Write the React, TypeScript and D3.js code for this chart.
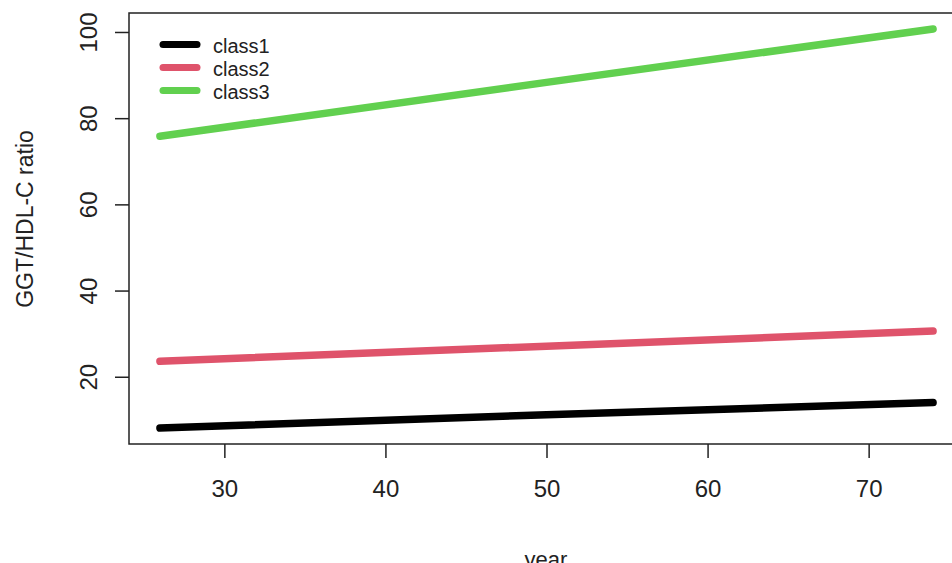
import React, { useEffect, useRef } from 'react';
import * as d3 from 'd3';

// Values
const years = [26, 50, 74];
const class1 = [8.1, 11.2, 14.0];
const class2 = [23.6, 27.1, 30.6];
const class3 = [75.8, 88.3, 100.7];
const seriesNames = ['class1', 'class2', 'class3'];
const seriesColors = ['#000000', '#DF536B', '#61D04F'];
const xTicks = [30, 40, 50, 60, 70];
const yTicks = [20, 40, 60, 80, 100];

const App: React.FC = () => {
  const svgRef = useRef<SVGSVGElement | null>(null);

  useEffect(() => {
    const svg = d3.select(svgRef.current);
    svg.selectAll('*').remove();
    const width = 952;
    const height = 563;
    const plot = { left: 129, right: 964, top: 13, bottom: 444 };
    const font = 'Liberation Sans, Arial, sans-serif';

    svg.attr('width', width).attr('height', height);

    const series = [class1, class2, class3];

    // R style axis extension of 4%
    const xExt = d3.extent(years) as [number, number];
    const xPad = (xExt[1] - xExt[0]) * 0.04;
    const allY = series.flat();
    const yExt = d3.extent(allY) as [number, number];
    const yPad = (yExt[1] - yExt[0]) * 0.04;

    const x = d3.scaleLinear()
      .domain([xExt[0] - xPad, xExt[1] + xPad])
      .range([plot.left, plot.right]);

    const y = d3.scaleLinear()
      .domain([yExt[0] - yPad, yExt[1] + yPad])
      .range([plot.bottom, plot.top]);

    svg.append('rect')
      .attr('width', width)
      .attr('height', height)
      .attr('fill', '#ffffff');

    // Lines.
    const line = d3.line<number>()
      .x((d, i) => x(years[i]))
      .y(d => y(d));

    svg.append('g')
      .selectAll('path')
      .data(series)
      .enter()
      .append('path')
      .attr('d', d => line(d))
      .attr('fill', 'none')
      .attr('stroke', (d, i) => seriesColors[i])
      .attr('stroke-width', 7.5)
      .attr('stroke-linecap', 'round');

    // Box.
    svg.append('rect')
      .attr('x', plot.left)
      .attr('y', plot.top)
      .attr('width', plot.right - plot.left)
      .attr('height', plot.bottom - plot.top)
      .attr('fill', 'none')
      .attr('stroke', '#222')
      .attr('stroke-width', 1.5);

    // X axis.
    const xAxis = svg.append('g')
      .attr('transform', `translate(0,${plot.bottom})`)
      .call(d3.axisBottom(x).tickValues(xTicks).tickSize(14).tickPadding(22));
    xAxis.select('.domain').remove();
    xAxis.selectAll('line').attr('stroke', '#222').attr('stroke-width', 1.5);
    xAxis.selectAll('text')
      .attr('font-family', font)
      .attr('font-size', 24)
      .attr('fill', '#222');

    // Y axis.
    const yAxis = svg.append('g')
      .attr('transform', `translate(${plot.left},0)`)
      .call(d3.axisLeft(y).tickValues(yTicks).tickSize(14));
    yAxis.select('.domain').remove();
    yAxis.selectAll('line').attr('stroke', '#222').attr('stroke-width', 1.5);
    yAxis.selectAll('text')
      .attr('font-family', font)
      .attr('font-size', 24)
      .attr('fill', '#222')
      .attr('x', null)
      .attr('dy', null)
      .attr('text-anchor', 'middle')
      .attr('transform', `translate(${97 - plot.left},0) rotate(-90)`);

    // Axis labels.
    svg.append('text')
      .attr('x', 546)
      .attr('y', 567)
      .attr('text-anchor', 'middle')
      .attr('font-family', font)
      .attr('font-size', 22)
      .attr('fill', '#222')
      .text('year');

    svg.append('text')
      .attr('text-anchor', 'middle')
      .attr('transform', 'translate(33,219) rotate(-90)')
      .attr('font-family', font)
      .attr('font-size', 23)
      .attr('fill', '#222')
      .text('GGT/HDL-C ratio');

    // Legend.
    const legend = svg.append('g')
      .selectAll('g')
      .data(seriesNames)
      .enter()
      .append('g')
      .attr('transform', (d, i) => `translate(160,${44.5 + i * 23})`);

    legend.append('line')
      .attr('x1', 3)
      .attr('x2', 37)
      .attr('stroke', (d, i) => seriesColors[i])
      .attr('stroke-width', 7)
      .attr('stroke-linecap', 'round');

    legend.append('text')
      .attr('x', 53)
      .attr('y', 8)
      .attr('font-family', font)
      .attr('font-size', 20)
      .attr('fill', '#222')
      .text(d => d);
  }, []);

  return (
    <>
      <svg ref={svgRef} style={{ position: 'absolute', left: 0, top: 0 }}></svg>
    </>
  );
};

export default App;
